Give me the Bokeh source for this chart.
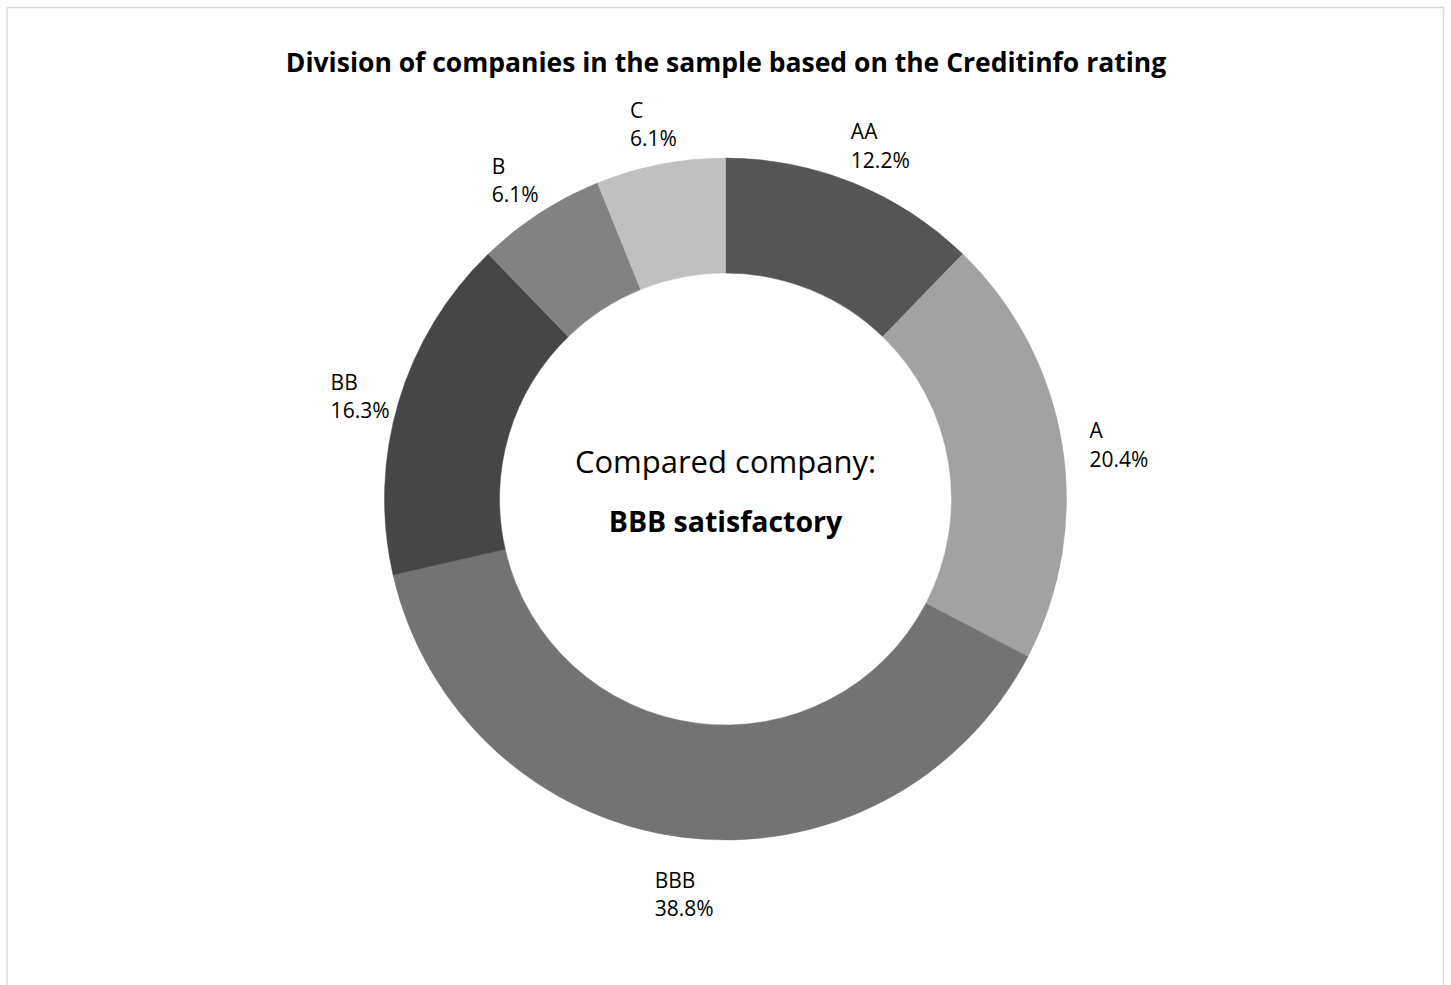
import math
from bokeh.plotting import figure
from bokeh.models import ColumnDataSource, BoxAnnotation
from bokeh.core.properties import value
from bokeh.embed import file_html
from bokeh.resources import INLINE

# ---- data ----
categories = ["AA", "A", "BBB", "BB", "B", "C"]
counts = [6, 10, 19, 8, 3, 3]
colors = ["#555555", "#a2a2a2", "#737373", "#464646", "#828282", "#c0c0c0"]
title_text = "Division of companies in the sample based on the Creditinfo rating"
center_line1 = "Compared company:"
center_line2 = "BBB satisfactory"

# ---- layout (canvas pixels, y up) ----
W, H = 1451, 985
cx, cy = 725, 486.5
r_out, r_in = 341, 226
r_lab = 390

total = sum(counts)
starts, ends, lx, ly, labels = [], [], [], [], []
cum = 0
for c, n in zip(categories, counts):
    f0 = cum / total
    f1 = (cum + n) / total
    starts.append(math.pi / 2 - f0 * 2 * math.pi)
    ends.append(math.pi / 2 - f1 * 2 * math.pi)
    mid = math.pi / 2 - (f0 + f1) / 2 * 2 * math.pi
    lx.append(cx + r_lab * math.cos(mid))
    ly.append(cy + r_lab * math.sin(mid))
    labels.append(f"{c}\n{100 * n / total:.1f}%")
    cum += n

src = ColumnDataSource(dict(start=starts, end=ends, color=colors,
                            lx=lx, ly=ly, label=labels))

p = figure(width=W, height=H, x_range=(0, W), y_range=(0, H),
           x_axis_type=None, y_axis_type=None, toolbar_location=None,
           output_backend="svg", min_border=0, outline_line_color=None,
           background_fill_color="white", border_fill_color="white")
p.grid.visible = False

p.annular_wedge(x=cx, y=cy, inner_radius=r_in, outer_radius=r_out,
                start_angle="start", end_angle="end", direction="clock",
                fill_color="color", line_color="color", line_width=0.5,
                source=src)

p.text(x="lx", y="ly", text="label", source=src, text_align="left",
       x_offset=-21, y_offset=8, text_baseline="middle",
       text_font=value("Open Sans"), text_font_size="21px",
       text_color="#000000", text_line_height=1.02)

p.text(x=[W / 2], y=[H - 61], text=[title_text], text_align="center",
       text_baseline="middle", text_font=value("Open Sans"),
       text_font_size="26.5px", text_font_style="bold", text_color="#000000")

p.text(x=[cx], y=[cy + 38.5], text=[center_line1], text_align="center",
       text_baseline="middle", text_font=value("Open Sans"),
       text_font_size="31px", text_color="#000000")
p.text(x=[cx], y=[cy - 21.5], text=[center_line2], text_align="center",
       text_baseline="middle", text_font=value("Open Sans"),
       text_font_size="28.5px", text_font_style="bold", text_color="#000000")

p.add_layout(BoxAnnotation(left=6.5, right=1443, top=H - 7, bottom=-20,
                           fill_alpha=0, line_color="#868686", line_width=1.5))

open("out.html", "w").write(file_html(p, INLINE))
